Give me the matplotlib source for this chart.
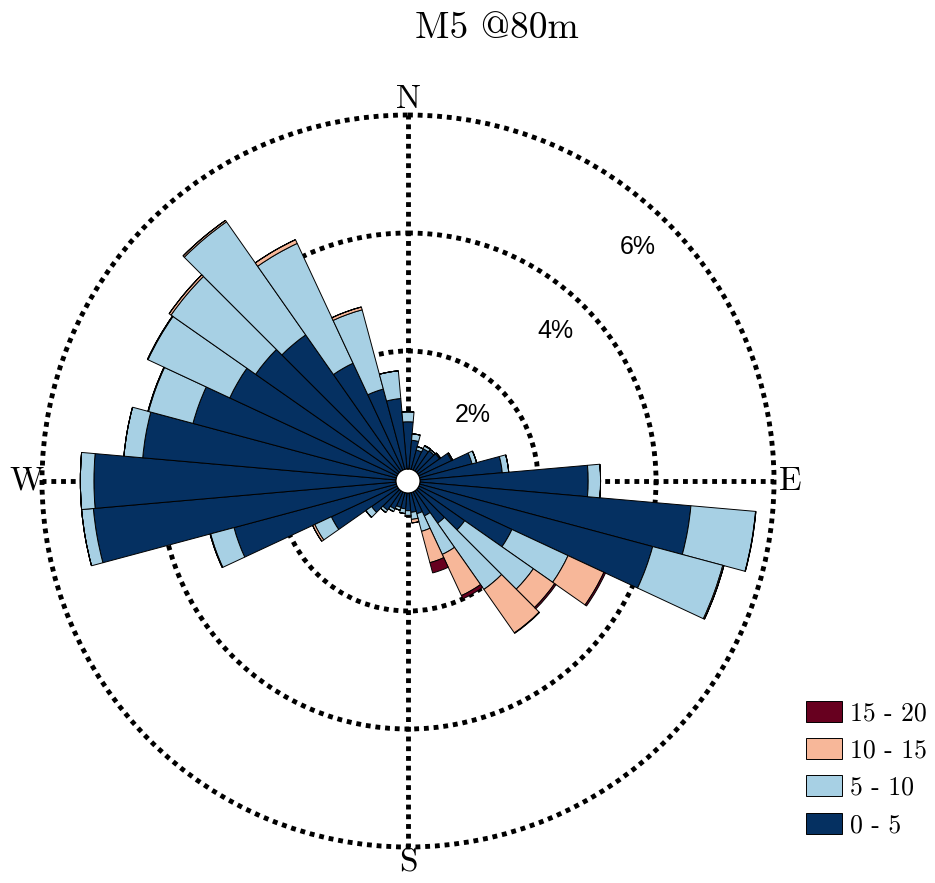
import numpy as np
import matplotlib.pyplot as plt

# wind direction sectors (degrees from north, clockwise), 10 degree bins
directions = np.arange(0, 360, 10)
speed_labels = ["0 - 5", "5 - 10", "10 - 15", "15 - 20"]

# frequency (%) per sector for each wind speed bin
freq_0_5 = [0.80, 0.49, 0.34, 0.40, 0.42, 0.45, 0.61, 0.92, 1.40, 2.85,
            4.61, 4.09, 1.74, 0.97, 0.67, 0.45, 0.37, 0.33, 0.30, 0.27,
            0.26, 0.32, 0.40, 0.55, 1.23, 2.85, 5.15, 5.12, 4.31, 3.57,
            3.13, 2.95, 2.82, 2.00, 1.41, 1.20]
freq_5_10 = [0.17, 0.11, 0.06, 0.05, 0.03, 0.02, 0.02, 0.08, 0.11, 0.21,
             1.10, 1.23, 1.05, 1.42, 1.37, 0.72, 0.31, 0.12, 0.08, 0.08,
             0.05, 0.05, 0.05, 0.12, 0.31, 0.41, 0.20, 0.23, 0.32, 0.78,
             1.53, 1.75, 2.34, 2.24, 1.39, 0.47]
freq_10_15 = [0.0, 0.0, 0.0, 0.01, 0.0, 0.0, 0.0, 0.0, 0.0, 0.0,
              0.005, 0.02, 0.67, 0.44, 0.90, 0.77, 0.55, 0.06, 0.02, 0.0,
              0.0, 0.0, 0.0, 0.0, 0.04, 0.01, 0.0, 0.0, 0.0, 0.01,
              0.01, 0.04, 0.03, 0.07, 0.05, 0.0]
freq_15_20 = [0.0, 0.0, 0.0, 0.0, 0.0, 0.0, 0.0, 0.0, 0.0, 0.0,
              0.0, 0.0, 0.03, 0.03, 0.01, 0.06, 0.18, 0.0, 0.0, 0.0,
              0.0, 0.0, 0.0, 0.0, 0.0, 0.0, 0.0, 0.0, 0.0, 0.0,
              0.0, 0.0, 0.0, 0.0, 0.0, 0.0]

rticks = [2, 4, 6]
compass = ["N", "E", "S", "W"]

serif = "cmr10"

fig = plt.figure(figsize=(9.35, 8.83), dpi=100)
ax = fig.add_axes([0.04492, 0.04077, 0.7829, 0.829], projection="polar")
ax.set_theta_zero_location("N")
ax.set_theta_direction(-1)
ax.set_rorigin(-0.2034)
ax.set_ylim(0, 6)
ax.set_axisbelow(True)

colors = plt.get_cmap("RdBu_r")(np.linspace(0, 1, 4))
theta = np.deg2rad(directions)
width = np.deg2rad(10)

series = [freq_0_5, freq_5_10, freq_10_15, freq_15_20]
bottom = np.zeros(len(directions))
handles = []
for values, color, label in zip(series, colors, speed_labels):
    values = np.asarray(values)
    bars = ax.bar(theta, values, width=width, bottom=bottom, color=color,
                  edgecolor="black", linewidth=0.7, label=label)
    handles.append(bars)
    bottom += values

ax.set_rgrids(rticks)
ax.set_yticklabels([])
ax.set_thetagrids([0, 90, 180, 270], labels=compass)
for lbl in ax.get_xticklabels():
    lbl.set_fontfamily(serif)
    lbl.set_fontsize(24)
ax.tick_params(axis="x", pad=1)
ax.grid(True, color="black", linestyle=(0, (1, 1)), linewidth=3.5)
# keep the outermost ring at full width instead of clipped at the edge
for line in ax.yaxis.get_gridlines():
    line.set_clip_on(False)
ax.spines["polar"].set_visible(False)

# percentage labels along the 45 degree diagonal, just inside each ring
for r in rticks:
    ax.text(np.deg2rad(44.5), r - 0.64, f"{r}%", ha="center", va="center",
            fontsize=18, family="Liberation Sans")

fig.text(497 / 935, 1 - 28 / 883, "M5 @80m", ha="center", va="center",
         family=serif, fontsize=27)

ax.legend(handles[::-1], speed_labels[::-1], loc="lower left",
          bbox_to_anchor=(0.862, 0.052), bbox_transform=fig.transFigure,
          frameon=False, prop={"family": serif, "size": 18.5},
          handlelength=1.4, handleheight=0.88, handletextpad=0.3,
          labelspacing=0.5, borderpad=0, borderaxespad=0)

fig.savefig("out.png", dpi=100)
